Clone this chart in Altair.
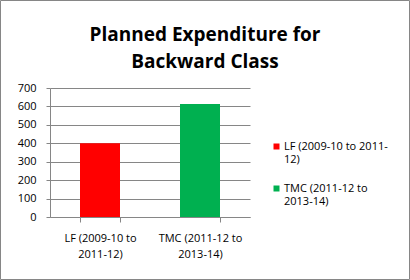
import altair as alt
import pandas as pd

categories = ["LF (2009-10 to 2011-12)", "TMC (2011-12 to 2013-14)"]
values = [400, 613]
colors = ["#FF0000", "#00B050"]
axis_lines = {"LF (2009-10 to 2011-12)": ["LF (2009-10 to", "2011-12)"],
              "TMC (2011-12 to 2013-14)": ["TMC (2011-12 to", "2013-14)"]}
legend_lines = {"LF (2009-10 to 2011-12)": ["LF (2009-10 to 2011-", "12)"],
                "TMC (2011-12 to 2013-14)": ["TMC (2011-12 to", "2013-14)"]}

df = pd.DataFrame({"cat": categories, "val": values})

FONT = "Open Sans"
GRAY = "#868686"

def expr_map(m):
    parts = []
    for k, v in m.items():
        arr = "[" + ",".join("'" + s + "'" for s in v) + "]"
        parts.append(f"datum.label == '{k}' ? {arr}")
    return " : ".join(parts) + " : datum.label"

bars = alt.Chart(df).mark_bar().encode(
    x=alt.X("cat:N", sort=categories, title=None,
            scale=alt.Scale(paddingInner=0.6, paddingOuter=0.3),
            axis=alt.Axis(labelAngle=0, labelExpr=expr_map(axis_lines),
                          tickBand="extent", labelPadding=10, tickSize=5,
                          labelLineHeight=16, labelBaseline="top")),
    y=alt.Y("val:Q", title=None,
            scale=alt.Scale(domain=[0, 700]),
            axis=alt.Axis(values=[0, 100, 200, 300, 400, 500, 600, 700],
                          tickSize=4, labelPadding=10, grid=True)),
    color=alt.Color("cat:N", sort=categories,
                    scale=alt.Scale(domain=categories, range=colors),
                    legend=alt.Legend(title=None, orient="none", legendX=221, legendY=53,
                                      symbolType="square", symbolSize=36,
                                      symbolStrokeWidth=0, labelExpr=expr_map(legend_lines),
                                      labelLimit=300, rowPadding=17,
                                      labelFontSize=11, labelFont=FONT,
                                      labelColor="#000000", labelOffset=2)),
)

frame = alt.Chart(pd.DataFrame({"k": [0]})).mark_rect(
    fill=None, stroke=GRAY, strokeWidth=1, clip=False
).encode(
    x=alt.value(-49.5), x2=alt.value(359.5),
    y=alt.value(-87.5), y2=alt.value(191.5),
)

chart = alt.layer(bars, frame).properties(
    width=200, height=129,
    autosize=alt.AutoSizeParams(type="none"),
    padding={"left": 50, "top": 88, "right": 160, "bottom": 63},
    title=alt.TitleParams(["Planned Expenditure for", "Backward Class"],
                          font=FONT, fontSize=19, fontWeight="bold",
                          lineHeight=27, anchor="middle", dx=55, dy=72,
                          baseline="top", offset=0,
                          color="#000000"),
).configure_axis(
    labelFont=FONT, labelFontSize=11, labelColor="#000000",
    domainColor=GRAY, tickColor=GRAY, gridColor=GRAY,
).configure_view(stroke=None)

chart.save("out.html", embed_options={"renderer": "svg", "actions": False})
